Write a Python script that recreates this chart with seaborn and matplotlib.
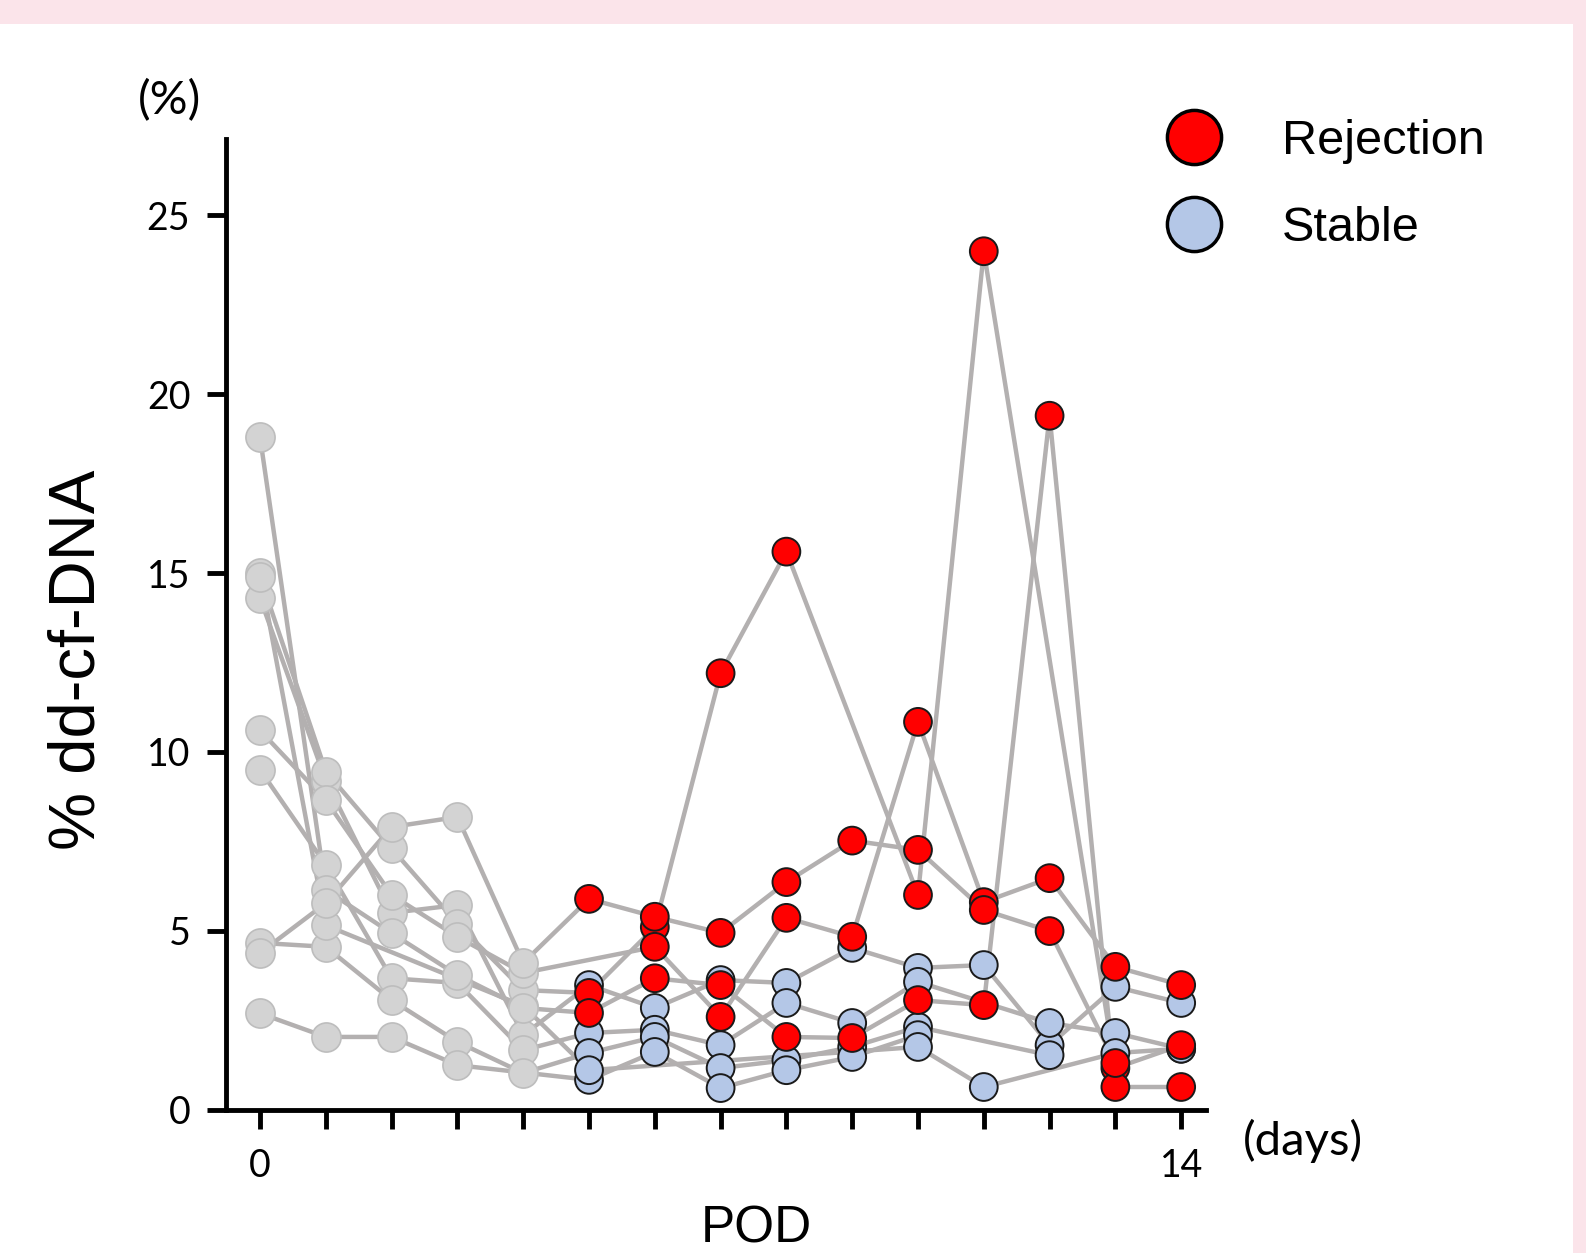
import numpy as np
import pandas as pd
import matplotlib.pyplot as plt
from matplotlib.lines import Line2D
from matplotlib.patches import Rectangle
import seaborn as sns

sns.set_style("white")
plt.rcParams.update({"text.color": "black", "xtick.color": "black", "ytick.color": "black",
                     "axes.labelcolor": "black"})

# days after surgery (POD) 0..14, one list per patient, None = no sample
days = list(range(15))

rejection_1 = [14.9, 9.45, 7.3, 5.2, 3.34, 3.26, 5.1, 12.2, 15.6, None, 6.0, 24.0, None, 1.16, 1.8]
rejection_2 = [18.8, 6.14, 4.93, 3.76, 2.84, 2.7, 3.67, 3.48, 2.03, 2.0, 3.06, 2.92, 19.4, 0.63, 0.63]
rejection_3 = [10.6, 8.65, 6.0, 4.83, 3.82, None, 4.55, 2.59, 5.36, 4.83, 10.84, 5.8, 6.47, 3.99, 3.48]
rejection_4 = [4.38, 5.77, 7.9, 8.18, 4.1, 5.89, 5.39, 4.94, 6.36, 7.52, 7.26, 5.58, 4.99, 1.3, None]

stable_1 = [14.3, 9.2, 5.5, 5.72, 2.08, 3.48, 2.84, 3.62, 3.54, 4.52, 3.96, 4.04, 1.8, 3.43, 2.98]
stable_2 = [9.5, 6.84, 3.67, 3.54, 1.66, 2.14, 2.23, 1.8, 2.98, 2.42, 3.57, None, 2.42, 2.14, 1.7]
stable_3 = [4.66, 4.55, 3.06, 1.89, 1.02, 1.58, 2.03, 1.16, 1.38, 1.75, 2.31, None, 1.52, None, None]
stable_4 = [2.69, 2.03, 2.03, 1.24, None, 0.83, 1.61, 0.6, 1.1, 1.47, 2.08, None, None, None, None]
stable_5 = [15.0, 5.15, None, None, 2.9, 1.1, None, None, None, None, 1.75, 0.63, None, 1.58, 1.7]

patients = {
    "S1": ("Stable", stable_1), "S2": ("Stable", stable_2), "S3": ("Stable", stable_3),
    "S4": ("Stable", stable_4), "S5": ("Stable", stable_5),
    "R1": ("Rejection", rejection_1), "R2": ("Rejection", rejection_2),
    "R3": ("Rejection", rejection_3), "R4": ("Rejection", rejection_4),
}
early_days = 4  # samples up to POD 4 are shown in grey

rows = []
for pid, (group, vals) in patients.items():
    for d, v in zip(days, vals):
        if v is None:
            continue
        status = "Early" if d <= early_days else group
        rows.append({"patient": pid, "day": d, "value": v, "status": status})
df = pd.DataFrame(rows)

fig = plt.figure(figsize=(15.86, 12.53), dpi=100)
fig.patch.set_facecolor("#fbe4ea")
fig.patches.append(Rectangle((0, 0), 1573 / 1586, 1 - 24 / 1253, transform=fig.transFigure,
                             facecolor="white", edgecolor="none", zorder=-5))
ax = fig.add_axes([0.1428, 0.1145, 0.6173, 0.7749])
ax.set_facecolor("none")

sns.lineplot(data=df, x="day", y="value", units="patient", estimator=None,
             color="#b3b0b0", linewidth=3.2, ax=ax, zorder=1, legend=False)
sns.scatterplot(data=df[df.status == "Early"], x="day", y="value", color="#d3d3d3",
                edgecolor="#bdbdbd", linewidth=1.2, s=440, ax=ax, zorder=2, legend=False)
sns.scatterplot(data=df[df.status != "Early"], x="day", y="value", hue="status",
                palette={"Rejection": "#ff0000", "Stable": "#b4c7e7"},
                edgecolor="#1a1a1a", linewidth=1.4, s=400, ax=ax, zorder=3, legend=False)

ax.set_xlim(-0.51, 14.37)
ax.set_ylim(0, 27.15)
ax.set_xticks(days)
ax.set_xticklabels(["0"] + [""] * 13 + ["14"])
ax.set_yticks([0, 5, 10, 15, 20, 25])
for sp in ["top", "right"]:
    ax.spines[sp].set_visible(False)
for sp in ["left", "bottom"]:
    ax.spines[sp].set_linewidth(3.5)
    ax.spines[sp].set_color("black")
ax.tick_params(axis="x", length=14, width=3.5, pad=14, labelsize=27, bottom=True)
ax.tick_params(axis="y", length=14, width=3.5, pad=12, labelsize=27, left=True)
for lab in ax.get_xticklabels() + ax.get_yticklabels():
    lab.set_family("Lato")
ax.set_xlabel("")
ax.set_ylabel("")

fig.text(78 / 1586, 1 - 660 / 1253, "% dd-cf-DNA", rotation=90, ha="center", va="center",
         fontsize=47, family="Liberation Sans")
fig.text(756 / 1586, 1 - 1229 / 1253, "POD", ha="center", va="center",
         fontsize=37, family="Liberation Sans")
fig.text(170 / 1586, 1 - 101 / 1253, "(%)", ha="center", va="center",
         fontsize=34, family="Lato")
fig.text(1303 / 1586, 1 - 1141 / 1253, "(days)", ha="center", va="center",
         fontsize=34, family="Lato")

handles = [
    Line2D([], [], linestyle="none", marker="o", markersize=39, markerfacecolor="#ff0000",
           markeredgecolor="black", markeredgewidth=2.5, label="Rejection"),
    Line2D([], [], linestyle="none", marker="o", markersize=39, markerfacecolor="#b4c7e7",
           markeredgecolor="black", markeredgewidth=2.5, label="Stable"),
]
leg = fig.legend(handles=handles, loc="upper left", bbox_to_anchor=(1126 / 1586, 1 - 100 / 1253),
                 frameon=False, prop={"family": "Liberation Sans", "size": 35},
                 handletextpad=0.8, labelspacing=0.85, borderaxespad=0)
for t in leg.get_texts():
    t.set_color("black")

fig.savefig("out.png", dpi=100, facecolor=fig.get_facecolor())
